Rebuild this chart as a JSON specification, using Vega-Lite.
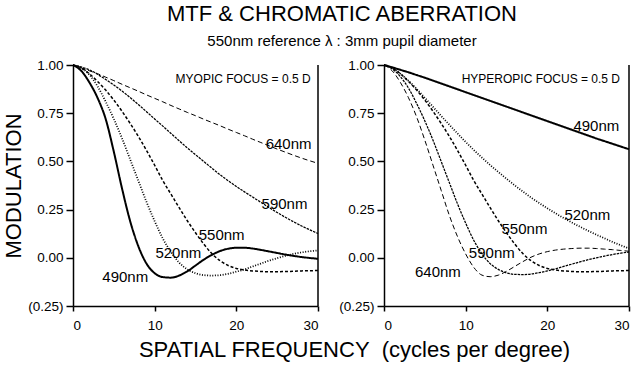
{
  "$schema": "https://vega.github.io/schema/vega-lite/v6.json",
  "background": "white",
  "padding": {"left": 2, "top": 3, "right": 5, "bottom": 5},
  "title": {
    "text": "MTF & CHROMATIC ABERRATION",
    "subtitle": "550nm reference λ : 3mm pupil diameter",
    "font": "Liberation Sans", "subtitleFont": "Liberation Sans",
    "fontSize": 22, "subtitleFontSize": 15,
    "fontWeight": "normal", "color": "black", "subtitleColor": "black",
    "anchor": "middle", "frame": "group", "offset": 8, "subtitlePadding": 8, "dx": 269
  },
  "datasets": {
    "myopic": [
      {"f":0,"640nm":1.000,"590nm":1.000,"550nm":1.000,"520nm":1.000,"490nm":1.000},
      {"f":1,"640nm":0.985,"590nm":0.990,"550nm":0.985,"520nm":0.985,"490nm":0.970},
      {"f":2,"640nm":0.970,"590nm":0.975,"550nm":0.955,"520nm":0.950,"490nm":0.910},
      {"f":3,"640nm":0.955,"590nm":0.952,"550nm":0.915,"520nm":0.890,"490nm":0.830},
      {"f":4,"640nm":0.937,"590nm":0.925,"550nm":0.870,"520nm":0.810,"490nm":0.720},
      {"f":5,"640nm":0.919,"590nm":0.896,"550nm":0.818,"520nm":0.720,"490nm":0.550},
      {"f":6,"640nm":0.900,"590nm":0.865,"550nm":0.760,"520nm":0.620,"490nm":0.360},
      {"f":7,"640nm":0.882,"590nm":0.831,"550nm":0.697,"520nm":0.510,"490nm":0.190},
      {"f":8,"640nm":0.864,"590nm":0.795,"550nm":0.630,"520nm":0.400,"490nm":0.060},
      {"f":9,"640nm":0.845,"590nm":0.758,"550nm":0.557,"520nm":0.290,"490nm":-0.030},
      {"f":10,"640nm":0.827,"590nm":0.720,"550nm":0.480,"520nm":0.190,"490nm":-0.080},
      {"f":11,"640nm":0.809,"590nm":0.683,"550nm":0.400,"520nm":0.100,"490nm":-0.100},
      {"f":12,"640nm":0.790,"590nm":0.645,"550nm":0.330,"520nm":0.030,"490nm":-0.103},
      {"f":13,"640nm":0.772,"590nm":0.607,"550nm":0.260,"520nm":-0.025,"490nm":-0.092},
      {"f":14,"640nm":0.754,"590nm":0.570,"550nm":0.192,"520nm":-0.060,"490nm":-0.070},
      {"f":15,"640nm":0.737,"590nm":0.535,"550nm":0.130,"520nm":-0.080,"490nm":-0.040},
      {"f":16,"640nm":0.719,"590nm":0.500,"550nm":0.072,"520nm":-0.090,"490nm":-0.010},
      {"f":17,"640nm":0.702,"590nm":0.465,"550nm":0.022,"520nm":-0.092,"490nm":0.015},
      {"f":18,"640nm":0.685,"590nm":0.431,"550nm":-0.015,"520nm":-0.090,"490nm":0.035},
      {"f":19,"640nm":0.667,"590nm":0.400,"550nm":-0.040,"520nm":-0.083,"490nm":0.047},
      {"f":20,"640nm":0.650,"590nm":0.370,"550nm":-0.055,"520nm":-0.072,"490nm":0.052},
      {"f":21,"640nm":0.633,"590nm":0.342,"550nm":-0.063,"520nm":-0.060,"490nm":0.052},
      {"f":22,"640nm":0.615,"590nm":0.315,"550nm":-0.068,"520nm":-0.045,"490nm":0.048},
      {"f":23,"640nm":0.598,"590nm":0.288,"550nm":-0.071,"520nm":-0.030,"490nm":0.041},
      {"f":24,"640nm":0.581,"590nm":0.261,"550nm":-0.072,"520nm":-0.015,"490nm":0.033},
      {"f":25,"640nm":0.564,"590nm":0.235,"550nm":-0.072,"520nm":-0.002,"490nm":0.025},
      {"f":26,"640nm":0.548,"590nm":0.210,"550nm":-0.071,"520nm":0.010,"490nm":0.017},
      {"f":27,"640nm":0.532,"590nm":0.187,"550nm":-0.070,"520nm":0.020,"490nm":0.010},
      {"f":28,"640nm":0.517,"590nm":0.165,"550nm":-0.068,"520nm":0.028,"490nm":0.004},
      {"f":29,"640nm":0.503,"590nm":0.145,"550nm":-0.067,"520nm":0.034,"490nm":-0.001},
      {"f":30,"640nm":0.490,"590nm":0.126,"550nm":-0.066,"520nm":0.038,"490nm":-0.005}
    ],
    "hyperopic": [
      {"f":0,"490nm":1.000,"520nm":1.000,"550nm":1.000,"590nm":1.000,"640nm":1.000},
      {"f":1,"490nm":0.988,"520nm":0.985,"550nm":0.985,"590nm":0.980,"640nm":0.970},
      {"f":2,"490nm":0.975,"520nm":0.955,"550nm":0.955,"590nm":0.940,"640nm":0.910},
      {"f":3,"490nm":0.962,"520nm":0.918,"550nm":0.915,"590nm":0.880,"640nm":0.830},
      {"f":4,"490nm":0.948,"520nm":0.876,"550nm":0.870,"590nm":0.800,"640nm":0.730},
      {"f":5,"490nm":0.934,"520nm":0.830,"550nm":0.818,"590nm":0.710,"640nm":0.610},
      {"f":6,"490nm":0.919,"520nm":0.783,"550nm":0.760,"590nm":0.610,"640nm":0.480},
      {"f":7,"490nm":0.904,"520nm":0.736,"550nm":0.697,"590nm":0.500,"640nm":0.350},
      {"f":8,"490nm":0.889,"520nm":0.690,"550nm":0.630,"590nm":0.390,"640nm":0.220},
      {"f":9,"490nm":0.874,"520nm":0.645,"550nm":0.557,"590nm":0.280,"640nm":0.110},
      {"f":10,"490nm":0.859,"520nm":0.601,"550nm":0.480,"590nm":0.180,"640nm":0.020},
      {"f":11,"490nm":0.844,"520nm":0.559,"550nm":0.400,"590nm":0.090,"640nm":-0.050},
      {"f":12,"490nm":0.829,"520nm":0.519,"550nm":0.330,"590nm":0.020,"640nm":-0.090},
      {"f":13,"490nm":0.814,"520nm":0.481,"550nm":0.260,"590nm":-0.030,"640nm":-0.098},
      {"f":14,"490nm":0.799,"520nm":0.445,"550nm":0.192,"590nm":-0.060,"640nm":-0.090},
      {"f":15,"490nm":0.784,"520nm":0.410,"550nm":0.130,"590nm":-0.078,"640nm":-0.070},
      {"f":16,"490nm":0.769,"520nm":0.376,"550nm":0.072,"590nm":-0.086,"640nm":-0.045},
      {"f":17,"490nm":0.754,"520nm":0.344,"550nm":0.022,"590nm":-0.087,"640nm":-0.020},
      {"f":18,"490nm":0.739,"520nm":0.313,"550nm":-0.015,"590nm":-0.084,"640nm":0.003},
      {"f":19,"490nm":0.724,"520nm":0.284,"550nm":-0.040,"590nm":-0.077,"640nm":0.020},
      {"f":20,"490nm":0.709,"520nm":0.257,"550nm":-0.055,"590nm":-0.068,"640nm":0.032},
      {"f":21,"490nm":0.694,"520nm":0.231,"550nm":-0.063,"590nm":-0.057,"640nm":0.040},
      {"f":22,"490nm":0.679,"520nm":0.206,"550nm":-0.068,"590nm":-0.045,"640nm":0.045},
      {"f":23,"490nm":0.664,"520nm":0.183,"550nm":-0.071,"590nm":-0.033,"640nm":0.048},
      {"f":24,"490nm":0.649,"520nm":0.161,"550nm":-0.072,"590nm":-0.021,"640nm":0.050},
      {"f":25,"490nm":0.634,"520nm":0.140,"550nm":-0.072,"590nm":-0.010,"640nm":0.050},
      {"f":26,"490nm":0.619,"520nm":0.120,"550nm":-0.071,"590nm":0.000,"640nm":0.048},
      {"f":27,"490nm":0.605,"520nm":0.101,"550nm":-0.070,"590nm":0.009,"640nm":0.045},
      {"f":28,"490nm":0.591,"520nm":0.082,"550nm":-0.068,"590nm":0.017,"640nm":0.042},
      {"f":29,"490nm":0.577,"520nm":0.065,"550nm":-0.067,"590nm":0.024,"640nm":0.038},
      {"f":30,"490nm":0.563,"520nm":0.048,"550nm":-0.066,"590nm":0.030,"640nm":0.034}
    ],
    "myopicLabels": [
      {"f":26.4,"m":0.592,"label":"640nm"},
      {"f":25.9,"m":0.279,"label":"590nm"},
      {"f":18.2,"m":0.12,"label":"550nm"},
      {"f":12.9,"m":0.025,"label":"520nm"},
      {"f":6.4,"m":-0.097,"label":"490nm"}
    ],
    "hyperopicLabels": [
      {"f":26.0,"m":0.685,"label":"490nm"},
      {"f":24.9,"m":0.224,"label":"520nm"},
      {"f":17.2,"m":0.147,"label":"550nm"},
      {"f":13.2,"m":0.025,"label":"590nm"},
      {"f":6.6,"m":-0.074,"label":"640nm"}
    ]
  },
  "hconcat": [
    {
      "width": 245, "height": 241,
      "layer": [
        {
          "data": {"name": "myopic"},
          "transform": [{"fold": ["640nm","590nm","550nm","520nm","490nm"], "as": ["wl","m"]}],
          "mark": {"type": "line", "interpolate": "monotone", "color": "black"},
          "encoding": {
            "x": {"field": "f", "type": "quantitative", "scale": {"domain": [0,30], "nice": false},
                  "axis": {"values": [0,10,20,30], "format": "d", "tickSize": 5, "labelPadding": 7,
                           "title": "SPATIAL FREQUENCY\u00a0 (cycles per degree)", "titleX": 281, "titleY": 50,
                           "titleBaseline": "alphabetic", "titleAlign": "center"}},
            "y": {"field": "m", "type": "quantitative", "scale": {"domain": [-0.25,1], "nice": false, "zero": false},
                  "axis": {"values": [-0.25,0,0.25,0.5,0.75,1], "tickSize": 7, "labelPadding": 3,
                           "labelExpr": "datum.value < 0 ? '(' + format(-datum.value, '.2f') + ')' : format(datum.value, '.2f')",
                           "title": "MODULATION", "titlePadding": 2}},
            "detail": {"field": "wl"},
            "strokeDash": {"field": "wl", "type": "nominal", "legend": null,
                           "scale": {"domain": ["490nm","520nm","550nm","590nm","640nm"], "range": [[1,0],[1,1.6],[3,2],[2.5,1],[5,3]]}},
            "strokeWidth": {"field": "wl", "type": "nominal", "legend": null,
                            "scale": {"domain": ["490nm","520nm","550nm","590nm","640nm"], "range": [2,1,1.4,2.2,1.5]}}
          }
        },
        {
          "data": {"name": "myopicLabels"},
          "mark": {"type": "text", "fontSize": 15, "align": "center", "baseline": "middle", "color": "black"},
          "encoding": {"x": {"field": "f", "type": "quantitative"}, "y": {"field": "m", "type": "quantitative"}, "text": {"field": "label"}}
        },
        {
          "data": {"values": [{"f": 29.1, "m": 0.929, "label": "MYOPIC FOCUS = 0.5 D"}]},
          "mark": {"type": "text", "fontSize": 12, "align": "right", "baseline": "middle", "color": "black"},
          "encoding": {"x": {"field": "f", "type": "quantitative"}, "y": {"field": "m", "type": "quantitative"}, "text": {"field": "label"}}
        },
        {
          "data": {"values": [{"edge": 30}]},
          "mark": {"type": "rule", "color": "black", "strokeWidth": 1.5},
          "encoding": {"x": {"field": "edge", "type": "quantitative"}}
        }
      ]
    },
    {
      "width": 245, "height": 241,
      "layer": [
        {
          "data": {"name": "hyperopic"},
          "transform": [{"fold": ["490nm","520nm","550nm","590nm","640nm"], "as": ["wl","m"]}],
          "mark": {"type": "line", "interpolate": "monotone", "color": "black"},
          "encoding": {
            "x": {"field": "f", "type": "quantitative", "scale": {"domain": [0,30], "nice": false},
                  "axis": {"values": [0,10,20,30], "format": "d", "tickSize": 5, "labelPadding": 7, "title": null}},
            "y": {"field": "m", "type": "quantitative", "scale": {"domain": [-0.25,1], "nice": false, "zero": false},
                  "axis": {"values": [-0.25,0,0.25,0.5,0.75,1], "tickSize": 7, "labelPadding": 3,
                           "labelExpr": "datum.value < 0 ? '(' + format(-datum.value, '.2f') + ')' : format(datum.value, '.2f')",
                           "title": null}},
            "detail": {"field": "wl"},
            "strokeDash": {"field": "wl", "type": "nominal", "legend": null,
                           "scale": {"domain": ["490nm","520nm","550nm","590nm","640nm"], "range": [[1,0],[1,1.6],[3,2],[2.5,1],[5,3]]}},
            "strokeWidth": {"field": "wl", "type": "nominal", "legend": null,
                            "scale": {"domain": ["490nm","520nm","550nm","590nm","640nm"], "range": [2,1,1.4,2.2,1.5]}}
          }
        },
        {
          "data": {"name": "hyperopicLabels"},
          "mark": {"type": "text", "fontSize": 15, "align": "center", "baseline": "middle", "color": "black"},
          "encoding": {"x": {"field": "f", "type": "quantitative"}, "y": {"field": "m", "type": "quantitative"}, "text": {"field": "label"}}
        },
        {
          "data": {"values": [{"f": 28.9, "m": 0.929, "label": "HYPEROPIC FOCUS = 0.5 D"}]},
          "mark": {"type": "text", "fontSize": 12, "align": "right", "baseline": "middle", "color": "black"},
          "encoding": {"x": {"field": "f", "type": "quantitative"}, "y": {"field": "m", "type": "quantitative"}, "text": {"field": "label"}}
        },
        {
          "data": {"values": [{"edge": 30}]},
          "mark": {"type": "rule", "color": "black", "strokeWidth": 1.5},
          "encoding": {"x": {"field": "edge", "type": "quantitative"}}
        }
      ]
    }
  ],
  "spacing": 66,
  "bounds": "flush",
  "config": {
    "view": {"stroke": null},
    "text": {"font": "Liberation Sans"},
    "axis": {
      "grid": false, "domainColor": "black", "tickColor": "black", "labelColor": "black", "titleColor": "black",
      "labelFont": "Liberation Sans", "titleFont": "Liberation Sans", "labelFontSize": 13.5,
      "titleFontSize": 22, "titleFontWeight": "normal", "domainWidth": 1.5, "tickWidth": 1.5
    }
  }
}
